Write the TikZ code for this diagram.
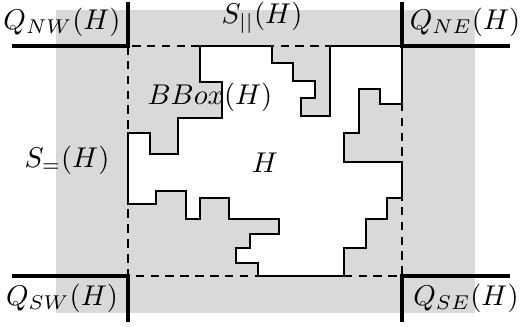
\documentclass[tikz,border=0pt]{standalone}
\begin{document}
\begin{tikzpicture}[x=0.35pt,y=-0.35pt,
  axisline/.style={line width=1.1pt},
  bboxline/.style={line width=1pt,dash pattern=on 3pt off 2.2pt},
  hline/.style={line width=1pt,fill=white,line join=miter},
  lbl/.style={inner sep=0pt}]
\useasboundingbox (0,0) rectangle (521,327);
\fill[gray!30] (56,10) rectangle (475,313);
% bounding box of H
\draw[bboxline] (128,46) rectangle (402,276);
% region H
\draw[hline] (200,46) -- (272,46) -- (272,63) -- (293,63) -- (293,81) -- (315,81)
  -- (315,98) -- (301,98) -- (301,116) -- (330,116) -- (330,46) -- (402,46)
  -- (402,104) -- (380,104) -- (380,89) -- (359,89) -- (359,133) -- (344,133)
  -- (344,162) -- (402,162) -- (402,198) -- (387,198) -- (387,219) -- (366,219)
  -- (366,248) -- (344,248) -- (344,276) -- (258,276) -- (258,263) -- (236,263)
  -- (236,248) -- (250,248) -- (250,234) -- (279,234) -- (279,219) -- (229,219)
  -- (229,198) -- (200,198) -- (200,219) -- (186,219) -- (186,191) -- (156,191)
  -- (156,204) -- (128,204) -- (128,133) -- (150,133) -- (150,154) -- (178,154)
  -- (178,118) -- (222,118) -- (222,82) -- (200,82) -- cycle;
% quadrant lines
\coordinate (nwt) at (128,2);
\coordinate (nwl) at (12,46);
\coordinate (net) at (402,2);
\coordinate (ner) at (510,46);
\coordinate (swb) at (128,322);
\coordinate (swl) at (12,276);
\coordinate (seb) at (402,322);
\coordinate (ser) at (510,276);
\coordinate (nw) at (128,46);
\coordinate (ne) at (402,46);
\coordinate (sw) at (128,276);
\coordinate (se) at (402,276);
\draw[axisline] (nwt) -- (nw) -- (nwl);
\draw[axisline] (net) -- (ne) -- (ner);
\draw[axisline] (swb) -- (sw) -- (swl);
\draw[axisline] (seb) -- (se) -- (ser);
% labels
\node[lbl] (qnw) at (62,22) {$Q_{NW}(H)$};
\node[lbl] (spar) at (262,18) {$S_{||}(H)$};
\node[lbl] (qne) at (465,22) {$Q_{NE}(H)$};
\node[lbl] (qsw) at (62,298) {$Q_{SW}(H)$};
\node[lbl] (qse) at (466,298) {$Q_{SE}(H)$};
\node[lbl] (bbox) at (210,97) {$BBox(H)$};
\node[lbl] (seq) at (67,160) {$S_{=}(H)$};
\node[lbl] (h) at (265,163) {$H$};
\end{tikzpicture}
\end{document}
